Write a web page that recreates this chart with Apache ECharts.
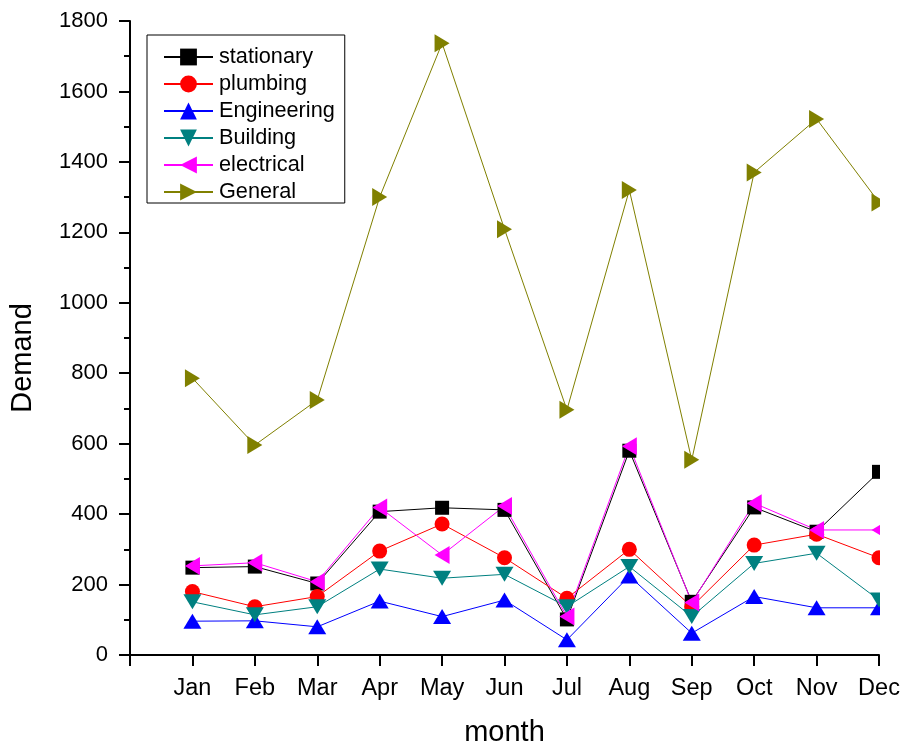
<!DOCTYPE html>
<html>
<head>
<meta charset="utf-8">
<script src="https://cdn.jsdelivr.net/npm/echarts@6/dist/echarts.min.js"></script>
<style>html,body{margin:0;padding:0;background:#fff;}#c{width:904px;height:747px;}</style>
</head>
<body>
<div id="c"></div>
<script>
const months = ['Jan','Feb','Mar','Apr','May','Jun','Jul','Aug','Sep','Oct','Nov','Dec'];
const yTicks = [0,200,400,600,800,1000,1200,1400,1600,1800];
const stationary  = [248, 251, 203, 407, 418, 412, 101, 580, 151, 419, 350, 520];
const plumbing    = [180, 137, 166, 295, 372, 276, 161, 300, 137, 312, 343, 276];
const engineering = [96, 97, 80, 153, 109, 156, 43, 224, 62, 166, 134, 134];
const building    = [151, 114, 137, 244, 218, 229, 137, 251, 109, 260, 289, 156];
const electrical  = [253, 262, 208, 419, 284, 423, 109, 593, 149, 431, 355, 355];
const general     = [786, 596, 724, 1300, 1737, 1209, 696, 1320, 554, 1370, 1522, 1285];

const font = 'Liberation Sans, Arial, sans-serif';
function mk(name, data, color, symbol, size, rot) {
  return {
    name: name, type: 'line', data: data.map((v, i) => [i + 1, v]),
    symbol: symbol, symbolSize: size, symbolRotate: rot || 0,
    lineStyle: { color: color, width: 1 }, itemStyle: { color: color },
    clip: false, animation: false
  };
}
const chart = echarts.init(document.getElementById('c'));
chart.setOption({
  backgroundColor: '#fff',
  animation: false,
  grid: { left: 130, right: 25, top: 21, bottom: 92, containLabel: false, outerBoundsMode: 'none' },
  legend: {
    orient: 'vertical', left: 147, top: 35,
    borderColor: '#000', borderWidth: 1, borderRadius: 0,
    padding: [11, 10, 0, 16],
    itemWidth: 49, itemHeight: 21, itemGap: 5,
    textStyle: { fontFamily: font, fontSize: 21.7, lineHeight: 22, color: '#000', padding: [0, 0, 0, 1] },
    data: ['stationary','plumbing','Engineering','Building','electrical','General']
  },
  xAxis: {
    type: 'value', min: 0, max: 12, interval: 1,
    name: 'month', nameLocation: 'middle', nameGap: 63,
    nameTextStyle: { fontFamily: font, fontSize: 29, color: '#000' },
    axisLine: { show: true, lineStyle: { color: '#000', width: 2 } },
    axisTick: { show: true, inside: false, length: 11, lineStyle: { color: '#000', width: 2 } },
    axisLabel: { fontFamily: font, fontSize: 23.5, color: '#000', margin: 22,
      formatter: v => (v >= 1 && v <= 12) ? months[v - 1] : '' },
    splitLine: { show: false }
  },
  yAxis: {
    type: 'value', min: yTicks[0], max: yTicks[yTicks.length - 1], interval: 200,
    name: 'Demand', nameLocation: 'middle', nameGap: 93,
    nameTextStyle: { fontFamily: font, fontSize: 29, color: '#000', padding: [0, 40, 0, 0] },
    axisLine: { show: true, lineStyle: { color: '#000', width: 2 } },
    axisTick: { show: true, inside: false, length: 11, lineStyle: { color: '#000', width: 2 } },
    minorTick: { show: true, splitNumber: 2, length: 6, lineStyle: { color: '#000', width: 2 } },
    axisLabel: { fontFamily: font, fontSize: 22, color: '#000', margin: 22, formatter: v => String(v) },
    splitLine: { show: false }
  },
  series: [
    mk('stationary', stationary, '#000000', 'rect', 14),
    mk('plumbing', plumbing, '#ff0000', 'circle', 15),
    mk('Engineering', engineering, '#0000ff', 'triangle', [18, 15]),
    mk('Building', building, '#008080', 'triangle', [18, 15], 180),
    mk('electrical', electrical, '#ff00ff', 'triangle', [18, 15], 90),
    mk('General', general, '#808000', 'triangle', [18, 15], -90)
  ],
  graphic: [{
    type: 'rect', z: 100, silent: true,
    shape: { x: 880, y: 0, width: 30, height: 654 },
    style: { fill: '#fff' }
  }]
});
</script>
</body>
</html>
